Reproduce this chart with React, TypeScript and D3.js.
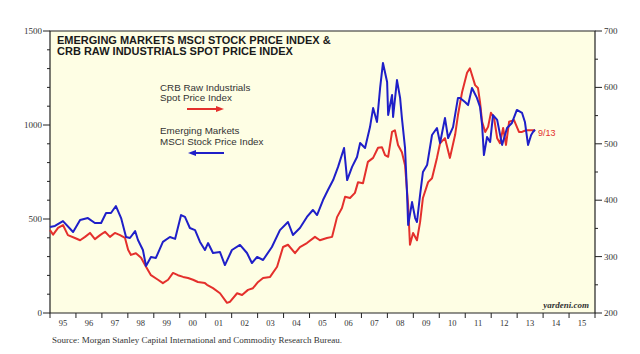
import { useEffect, useRef } from "react"
import * as d3 from "d3"

// MSCI Emerging Markets stock price index (left axis)
const msciYears = [
  1995.0, 1995.19, 1995.5, 1995.89, 1996.16, 1996.46, 1996.73, 1996.97, 1997.16, 1997.35,
  1997.54, 1997.74, 1997.93, 1998.08, 1998.28, 1998.39, 1998.58, 1998.7, 1998.89, 1999.08,
  1999.35, 1999.62, 1999.82, 2000.05, 2000.2, 2000.39, 2000.59, 2000.78, 2000.97, 2001.09,
  2001.28, 2001.55, 2001.74, 2002.01, 2002.32, 2002.59, 2002.78, 2002.98, 2003.21, 2003.55,
  2003.86, 2004.17, 2004.36, 2004.63, 2004.9, 2005.13, 2005.29, 2005.52, 2005.71, 2005.91,
  2006.1, 2006.33, 2006.45, 2006.64, 2006.83, 2006.95, 2007.14, 2007.33, 2007.45, 2007.6,
  2007.72, 2007.83, 2007.99, 2008.03, 2008.18, 2008.22, 2008.37, 2008.49, 2008.56, 2008.68,
  2008.76, 2008.8, 2008.95, 2009.07, 2009.14, 2009.26, 2009.37, 2009.53, 2009.72, 2009.91,
  2010.03, 2010.22, 2010.34, 2010.53, 2010.72, 2010.8, 2010.99, 2011.11, 2011.26, 2011.45,
  2011.57, 2011.65, 2011.72, 2011.84, 2011.96, 2012.07, 2012.23, 2012.42, 2012.61, 2012.8,
  2012.99, 2013.19, 2013.3, 2013.42, 2013.54, 2013.61, 2013.69,
]
const msciValues = [
  457, 463, 489, 431, 495, 505, 479, 479, 532, 532,
  569, 505, 404, 399, 436, 388, 335, 250, 298, 293,
  378, 404, 394, 521, 511, 452, 441, 378, 335, 372,
  319, 324, 255, 335, 362, 319, 266, 298, 282, 351,
  441, 484, 415, 452, 511, 548, 521, 601, 654, 707,
  777, 878, 707, 777, 830, 904, 878, 989, 1090, 1016,
  1197, 1330, 1229, 1053, 1160, 1043, 1239, 1144, 1037, 878,
  628, 468, 590, 505, 484, 628, 750, 787, 947, 984,
  904, 1037, 931, 989, 1144, 1144, 1122, 1106, 1197, 1144,
  1096, 1000, 840, 936, 910, 1053, 1027, 894, 984, 1011,
  1080, 1064, 1016, 894, 947, 963, 975,
]

// CRB raw industrials spot price index (right axis)
const crbYears = [
  1995.0, 1995.12, 1995.31, 1995.5, 1995.69, 1995.96, 1996.16, 1996.35, 1996.54, 1996.73,
  1996.93, 1997.12, 1997.31, 1997.5, 1997.7, 1997.89, 1998.01, 1998.12, 1998.31, 1998.51,
  1998.7, 1998.89, 1999.16, 1999.35, 1999.55, 1999.74, 1999.93, 2000.13, 2000.32, 2000.51,
  2000.7, 2000.97, 2001.05, 2001.28, 2001.55, 2001.82, 2001.94, 2002.21, 2002.4, 2002.63,
  2002.82, 2003.02, 2003.21, 2003.48, 2003.75, 2003.98, 2004.17, 2004.44, 2004.63, 2004.9,
  2005.21, 2005.4, 2005.67, 2005.87, 2006.06, 2006.25, 2006.37, 2006.56, 2006.75, 2006.87,
  2007.06, 2007.25, 2007.45, 2007.64, 2007.79, 2007.91, 2008.03, 2008.18, 2008.29, 2008.41,
  2008.56, 2008.68, 2008.8, 2008.87, 2008.99, 2009.14, 2009.26, 2009.37, 2009.57, 2009.72,
  2009.91, 2010.03, 2010.22, 2010.41, 2010.61, 2010.72, 2010.88, 2011.07, 2011.18, 2011.38,
  2011.49, 2011.57, 2011.65, 2011.77, 2011.88, 2011.99, 2012.11, 2012.23, 2012.34, 2012.46,
  2012.57, 2012.69, 2012.88, 2013.07, 2013.19, 2013.34, 2013.49, 2013.69,
]
const crbValues = [
  347, 339, 351, 356, 338, 333, 329, 335, 342, 331,
  338, 344, 335, 342, 338, 333, 312, 303, 306, 298,
  282, 267, 259, 253, 259, 271, 267, 264, 262, 259,
  255, 253, 250, 244, 235, 218, 220, 235, 232, 241,
  244, 255, 262, 264, 282, 317, 321, 306, 317, 324,
  335, 329, 333, 335, 370, 386, 406, 404, 413, 432,
  430, 468, 475, 493, 494, 480, 477, 521, 524, 498,
  485, 462, 391, 321, 342, 329, 361, 404, 432, 439,
  475, 501, 510, 475, 516, 551, 592, 626, 634, 604,
  599, 574, 539, 521, 530, 555, 546, 510, 501, 528,
  498, 539, 542, 521, 521, 524, 524, 524,
]

const yearLabels = ["95", "96", "97", "98", "99", "00", "01", "02", "03", "04", "05",
  "06", "07", "08", "09", "10", "11", "12", "13", "14", "15"]
const leftTicks = [0, 500, 1000, 1500]
const rightTicks = [200, 300, 400, 500, 600, 700]

const blue = "#1f1fc8"
const red = "#e4302c"
const serif = "'Liberation Serif', 'Times New Roman', serif"
const sans = "'Liberation Sans', Arial, sans-serif"

export default function App() {
  const ref = useRef<SVGSVGElement>(null)

  useEffect(() => {
    document.body.style.margin = "0"
    const svg = d3.select(ref.current)
    svg.selectAll("*").remove()

    const left = 50, right = 595, top = 31, bottom = 313

    const x = d3.scaleLinear().domain([1995, 2016]).range([left, right])
    const yL = d3.scaleLinear().domain([0, 1500]).range([bottom, top])
    const yR = d3.scaleLinear().domain([200, 700]).range([bottom, top])

    svg.append("rect")
      .attr("x", left).attr("y", top)
      .attr("width", right - left).attr("height", bottom - top)
      .attr("fill", "#fefee4")

    // left axis
    const gl = svg.append("g")
    d3.range(0, 1501, 100).forEach((v) => {
      const major = v % 500 === 0
      gl.append("line")
        .attr("x1", left - (major ? 7 : 3)).attr("x2", left)
        .attr("y1", yL(v)).attr("y2", yL(v))
        .attr("stroke", "#222").attr("stroke-width", 1)
    })
    leftTicks.forEach((v) => {
      gl.append("text")
        .attr("x", left - 8).attr("y", yL(v) + 3)
        .attr("text-anchor", "end")
        .style("font-family", serif).style("font-size", "9px").attr("fill", "#333")
        .text(v)
    })

    // right axis
    const gr = svg.append("g")
    d3.range(200, 701, 50).forEach((v) => {
      const major = v % 100 === 0
      gr.append("line")
        .attr("x1", right).attr("x2", right + (major ? 7 : 3))
        .attr("y1", yR(v)).attr("y2", yR(v))
        .attr("stroke", "#222").attr("stroke-width", 1)
    })
    rightTicks.forEach((v) => {
      gr.append("text")
        .attr("x", right + 9).attr("y", yR(v) + 3)
        .style("font-family", serif).style("font-size", "9px").attr("fill", "#333")
        .text(v)
    })

    // x axis
    const gx = svg.append("g")
    d3.range(1995, 2017).forEach((yr) => {
      gx.append("line")
        .attr("x1", x(yr)).attr("x2", x(yr))
        .attr("y1", bottom).attr("y2", bottom + 5)
        .attr("stroke", "#222")
    })
    yearLabels.forEach((lab, i) => {
      gx.append("text")
        .attr("x", x(1995 + i + 0.5)).attr("y", bottom + 13)
        .attr("text-anchor", "middle")
        .style("font-family", serif).style("font-size", "8.5px").attr("fill", "#333")
        .text(lab)
    })

    // frame
    svg.append("path")
      .attr("d", `M${left},${bottom}V${top}H${right}V${bottom}Z`)
      .attr("fill", "none").attr("stroke", "#222").attr("stroke-width", 1.2)

    const crbLine = d3.line<number>()
      .x((_, i) => x(crbYears[i]))
      .y((d) => yR(d))
    const msciLine = d3.line<number>()
      .x((_, i) => x(msciYears[i]))
      .y((d) => yL(d))

    svg.append("path")
      .attr("d", crbLine(crbValues))
      .attr("fill", "none").attr("stroke", red).attr("stroke-width", 2)
      .attr("stroke-linejoin", "round")
    svg.append("path")
      .attr("d", msciLine(msciValues))
      .attr("fill", "none").attr("stroke", blue).attr("stroke-width", 2)
      .attr("stroke-linejoin", "round")

    // titles
    const title = svg.append("g")
      .style("font-family", sans).style("font-weight", "bold").style("font-size", "11px")
      .attr("fill", "#1a1a1a")
    title.append("text").attr("x", 57).attr("y", 44)
      .text("EMERGING MARKETS MSCI STOCK PRICE INDEX &")
    title.append("text").attr("x", 57).attr("y", 55)
      .text("CRB RAW INDUSTRIALS SPOT PRICE INDEX")

    // legend
    const lg = svg.append("g")
      .style("font-family", sans).style("font-size", "9.8px").attr("fill", "#333")
    lg.append("text").attr("x", 160).attr("y", 91).text("CRB Raw Industrials")
    lg.append("text").attr("x", 160).attr("y", 101).text("Spot Price Index")
    lg.append("text").attr("x", 160).attr("y", 134).text("Emerging Markets")
    lg.append("text").attr("x", 160).attr("y", 145).text("MSCI Stock Price Index")

    svg.append("line").attr("x1", 187).attr("x2", 218).attr("y1", 109).attr("y2", 109)
      .attr("stroke", red).attr("stroke-width", 2)
    svg.append("path").attr("d", "M216,106L224,109L216,112Z").attr("fill", red)
    svg.append("line").attr("x1", 194).attr("x2", 224).attr("y1", 153).attr("y2", 153)
      .attr("stroke", blue).attr("stroke-width", 2)
    svg.append("path").attr("d", "M196,150L188,153L196,156Z").attr("fill", blue)

    svg.append("text").attr("x", x(crbYears[crbYears.length - 1]) + 3).attr("y", 136)
      .style("font-family", sans).style("font-size", "9px").attr("fill", red)
      .text("9/13")

    svg.append("text").attr("x", 589).attr("y", 308)
      .attr("text-anchor", "end")
      .style("font-family", serif).style("font-style", "italic").style("font-weight", "bold")
      .style("font-size", "9px").attr("fill", "#333")
      .text("yardeni.com")

    svg.append("text").attr("x", 52).attr("y", 343)
      .style("font-family", serif).style("font-size", "9px").attr("fill", "#333")
      .text("Source: Morgan Stanley Capital International and Commodity Research Bureau.")
  }, [])

  return <svg ref={ref} width={640} height={354} style={{ display: "block", background: "#fff" }} />
}
